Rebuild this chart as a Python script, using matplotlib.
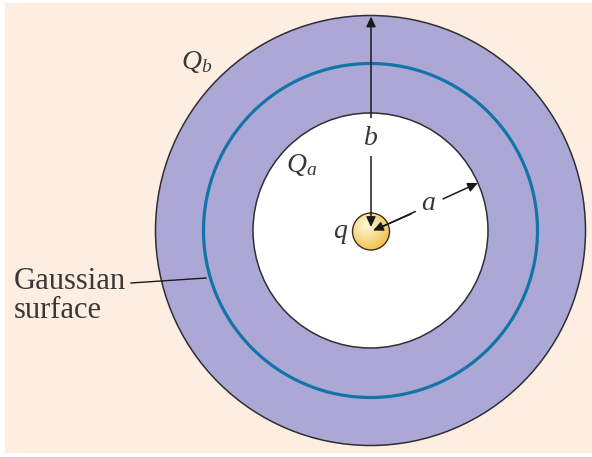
import numpy as np
import matplotlib
matplotlib.use("Agg")
import matplotlib.pyplot as plt
from matplotlib.patches import Circle, Rectangle, FancyArrowPatch

# ---- diagram values (pixel units of the 592x457 picture) ----
center = (370.5, 230.5)
outer_radius = 215.0      # outer surface of the shell (b)
gauss_radius = 167.0      # Gaussian surface
inner_radius = 117.5      # inner surface of the shell (a)
charge_radius = 18.5      # point charge q
charge_center = (371.0, 231.5)
labels = ["$Q_b$", "$Q_a$", "$q$", "$b$", "$a$", "Gaussian\nsurface"]

W, H = 592, 457
fig = plt.figure(figsize=(W / 100, H / 100), dpi=100)
ax = fig.add_axes([0, 0, 1, 1])
ax.set_xlim(0, W)
ax.set_ylim(H, 0)
ax.set_aspect("equal")
ax.axis("off")

plt.rcParams["mathtext.fontset"] = "custom"
plt.rcParams["mathtext.it"] = "Liberation Serif:italic"
plt.rcParams["mathtext.rm"] = "Liberation Serif"

# background
ax.add_patch(Rectangle((0, 0), W, H, color="white", zorder=0))
ax.add_patch(Rectangle((5, 3), W - 5, 449, color="#FDEEE1", zorder=0.5))

# shell
ax.add_patch(Circle(center, outer_radius, facecolor="#ACA8D5",
                    edgecolor="#2E2E35", lw=1.1, zorder=1))
ax.add_patch(Circle(center, gauss_radius, facecolor="none",
                    edgecolor="#1474A8", lw=2.3, zorder=2))
ax.add_patch(Circle(center, inner_radius, facecolor="white",
                    edgecolor="#2E2E35", lw=1.1, zorder=2))

# point charge with radial gradient
cx, cy = charge_center
n = 200
xs = np.linspace(cx - charge_radius, cx + charge_radius, n)
ys = np.linspace(cy - charge_radius, cy + charge_radius, n)
X, Y = np.meshgrid(xs, ys)
d = np.hypot(X - (cx - 5), Y - (cy - 6)) / (charge_radius * 1.6)
d = np.clip(d, 0, 1)
c0 = np.array([1.0, 0.98, 0.86])
c1 = np.array([0.93, 0.72, 0.20])
img = c0[None, None, :] * (1 - d[..., None]) + c1[None, None, :] * d[..., None]
im = ax.imshow(img, extent=(xs[0], xs[-1], ys[-1], ys[0]), zorder=3,
               interpolation="bilinear")
clip = Circle(charge_center, charge_radius, transform=ax.transData)
im.set_clip_path(clip)
ax.add_patch(Circle(charge_center, charge_radius, facecolor="none",
                    edgecolor="#3A3020", lw=1.0, zorder=4))

# arrow b (vertical, up to outer surface)
arrow_kw = dict(arrowstyle="-|>,head_length=6,head_width=2.8", color="#1A1A1A",
                lw=1.1, shrinkA=0, shrinkB=0, zorder=5)
ax.add_patch(FancyArrowPatch((cx, 150), (cx, center[1] - outer_radius + 1), **arrow_kw))
ax.add_patch(FancyArrowPatch((cx, 152), (cx, 227), **arrow_kw))
ax.plot([cx, cx], [121, 152], color="white", lw=5, zorder=5.5)

# arrow a (diagonal, to inner surface)
ang = np.arctan2(-46, 104)
ex = center[0] + inner_radius * np.cos(ang)
ey = center[1] + inner_radius * np.sin(ang)
ax.add_patch(FancyArrowPatch((cx + 6, cy - 2.5), (ex, ey), **arrow_kw))
ax.add_patch(FancyArrowPatch((cx + 40, cy - 17.5), (cx + 2, cy - 1), **arrow_kw))
ax.plot([416, 441], [211.5, 196.5], color="white", lw=9, zorder=5.5,
        solid_capstyle="butt")

# text
tkw = dict(color="#383838", zorder=6, ha="center", va="center")
ax.text(197, 61, labels[0], fontsize=20, **tkw)
ax.text(302, 164, labels[1], fontsize=20, **tkw)
ax.text(341, 232, labels[2], fontsize=20, **tkw)
ax.text(cx, 137, labels[3], fontsize=20, **tkw)
ax.text(428, 202, labels[4], fontsize=20, **tkw)
ax.text(14, 296, labels[5], fontsize=22, family="Liberation Serif",
        color="#383838", ha="left", va="center", linespacing=1.0, zorder=6)

# leader line for Gaussian surface
ax.plot([131, 206], [283, 278], color="#1A1A1A", lw=1.0, zorder=6)

fig.savefig("out.png", dpi=100)
